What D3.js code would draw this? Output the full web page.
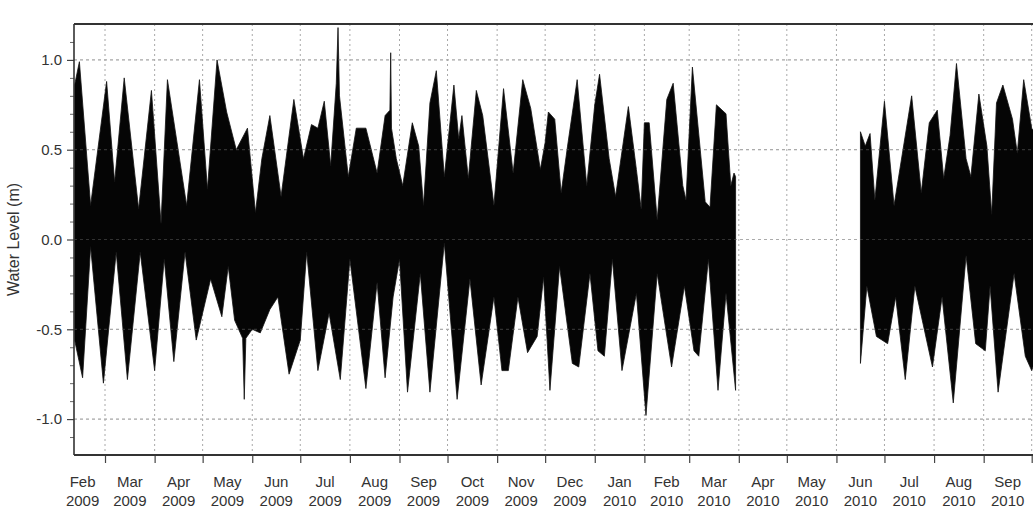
<!DOCTYPE html>
<html>
<head>
<meta charset="utf-8">
<script src="https://cdn.jsdelivr.net/npm/d3@7"></script>
<style>
  html, body { margin: 0; padding: 0; background: #fff; }
  svg { display: block; }
  text { font-family: "Liberation Sans", Arial, sans-serif; }
</style>
</head>
<body>
<svg id="chart" width="1033" height="513"></svg>
<script>
// Upper envelope of the recorded water level (m): spring/neap highs
const highWater = [
  ["2009-02-10", 0.86], ["2009-02-13", 0.99], ["2009-02-20", 0.19], ["2009-03-02", 0.88],
  ["2009-03-07", 0.32], ["2009-03-13", 0.90], ["2009-03-22", 0.17], ["2009-03-30", 0.83],
  ["2009-04-05", 0.09], ["2009-04-09", 0.89], ["2009-04-21", 0.19], ["2009-04-29", 0.89],
  ["2009-05-04", 0.28], ["2009-05-10", 1.00], ["2009-05-16", 0.71], ["2009-05-22", 0.50],
  ["2009-05-29", 0.62], ["2009-06-03", 0.15], ["2009-06-07", 0.45], ["2009-06-12", 0.69],
  ["2009-06-19", 0.24], ["2009-06-27", 0.78], ["2009-07-03", 0.45], ["2009-07-08", 0.64],
  ["2009-07-12", 0.62], ["2009-07-16", 0.77], ["2009-07-20", 0.41], ["2009-07-23T12:00", 0.87],
  ["2009-07-24T14:00", 1.18], ["2009-07-25T12:00", 0.80], ["2009-07-31", 0.35], ["2009-08-05", 0.62],
  ["2009-08-11", 0.62], ["2009-08-18", 0.37], ["2009-08-23", 0.69], ["2009-08-26", 0.72],
  ["2009-08-26T12:00", 1.04], ["2009-08-27", 0.62], ["2009-08-30", 0.45], ["2009-09-03", 0.30],
  ["2009-09-09", 0.65], ["2009-09-13", 0.52], ["2009-09-16", 0.19], ["2009-09-20", 0.76],
  ["2009-09-24", 0.94], ["2009-09-29", 0.35], ["2009-10-05", 0.86], ["2009-10-08", 0.56],
  ["2009-10-10", 0.69], ["2009-10-14", 0.34], ["2009-10-19", 0.83], ["2009-10-23", 0.69],
  ["2009-10-30", 0.19], ["2009-11-05", 0.84], ["2009-11-11", 0.37], ["2009-11-17", 0.89],
  ["2009-11-22", 0.73], ["2009-11-28", 0.39], ["2009-12-01", 0.54], ["2009-12-03", 0.71],
  ["2009-12-07", 0.67], ["2009-12-11", 0.26], ["2009-12-15", 0.52], ["2009-12-21", 0.89],
  ["2009-12-27", 0.30], ["2010-01-01", 0.75], ["2010-01-04", 0.92], ["2010-01-10", 0.45],
  ["2010-01-14", 0.24], ["2010-01-22", 0.74], ["2010-01-27", 0.39], ["2010-01-30", 0.17],
  ["2010-02-01", 0.65], ["2010-02-04", 0.65], ["2010-02-09", 0.11], ["2010-02-15", 0.78],
  ["2010-02-19", 0.87], ["2010-02-25", 0.30], ["2010-02-27", 0.22], ["2010-03-03", 0.96],
  ["2010-03-11", 0.21], ["2010-03-14", 0.18], ["2010-03-18", 0.75], ["2010-03-24", 0.70],
  ["2010-03-27", 0.30], ["2010-03-29", 0.37], ["2010-03-30", 0.35],
  ["2010-06-16", 0.60], ["2010-06-19", 0.52], ["2010-06-22", 0.59], ["2010-06-25", 0.22],
  ["2010-07-01", 0.77], ["2010-07-07", 0.19], ["2010-07-18", 0.80], ["2010-07-24", 0.26],
  ["2010-07-29", 0.65], ["2010-08-03", 0.72], ["2010-08-07", 0.34], ["2010-08-11", 0.58],
  ["2010-08-15", 0.98], ["2010-08-21", 0.45], ["2010-08-24", 0.35], ["2010-08-29", 0.81],
  ["2010-09-03", 0.52], ["2010-09-06", 0.14], ["2010-09-09", 0.76], ["2010-09-13", 0.86],
  ["2010-09-19", 0.67], ["2010-09-22", 0.48], ["2010-09-26", 0.89], ["2010-10-01", 0.62],
  ["2010-10-06", 0.55]
];

// Lower envelope of the recorded water level (m): spring/neap lows
const lowWater = [
  ["2009-02-10", -0.56], ["2009-02-15", -0.77], ["2009-02-20", -0.04], ["2009-02-28", -0.80],
  ["2009-03-08", -0.07], ["2009-03-15", -0.78], ["2009-03-23", -0.07], ["2009-04-01", -0.73],
  ["2009-04-07", -0.11], ["2009-04-13", -0.68], ["2009-04-20", -0.07], ["2009-04-27", -0.56],
  ["2009-05-06", -0.22], ["2009-05-13", -0.43], ["2009-05-17", -0.15], ["2009-05-21", -0.45],
  ["2009-05-26", -0.55], ["2009-05-27", -0.89], ["2009-05-28", -0.55], ["2009-06-01", -0.50],
  ["2009-06-06", -0.52], ["2009-06-12", -0.39], ["2009-06-17", -0.32], ["2009-06-24", -0.75],
  ["2009-07-01", -0.56], ["2009-07-05", -0.07], ["2009-07-12", -0.73], ["2009-07-19", -0.41],
  ["2009-07-26", -0.78], ["2009-08-01", -0.11], ["2009-08-11", -0.83], ["2009-08-18", -0.24],
  ["2009-08-23", -0.77], ["2009-08-28", -0.32], ["2009-09-01", -0.11], ["2009-09-06", -0.85],
  ["2009-09-14", -0.19], ["2009-09-20", -0.85], ["2009-09-29", -0.02], ["2009-10-07", -0.89],
  ["2009-10-15", -0.22], ["2009-10-22", -0.81], ["2009-10-30", -0.32], ["2009-11-04", -0.73],
  ["2009-11-08", -0.73], ["2009-11-14", -0.32], ["2009-11-20", -0.63], ["2009-11-26", -0.54],
  ["2009-11-30", -0.21], ["2009-12-04", -0.84], ["2009-12-10", -0.15], ["2009-12-18", -0.69],
  ["2009-12-22", -0.71], ["2009-12-29", -0.19], ["2010-01-03", -0.62], ["2010-01-07", -0.65],
  ["2010-01-12", -0.11], ["2010-01-18", -0.73], ["2010-01-27", -0.30], ["2010-02-02", -0.98],
  ["2010-02-09", -0.19], ["2010-02-18", -0.71], ["2010-02-26", -0.26], ["2010-03-04", -0.62],
  ["2010-03-07", -0.65], ["2010-03-13", -0.11], ["2010-03-19", -0.84], ["2010-03-24", -0.30],
  ["2010-03-30", -0.84],
  ["2010-06-16", -0.69], ["2010-06-20", -0.26], ["2010-06-26", -0.54], ["2010-07-03", -0.58],
  ["2010-07-08", -0.32], ["2010-07-14", -0.78], ["2010-07-20", -0.26], ["2010-07-31", -0.71],
  ["2010-08-06", -0.32], ["2010-08-13", -0.91], ["2010-08-21", -0.09], ["2010-08-27", -0.58],
  ["2010-09-02", -0.62], ["2010-09-05", -0.26], ["2010-09-10", -0.85], ["2010-09-20", -0.19],
  ["2010-09-27", -0.65], ["2010-10-01", -0.73], ["2010-10-06", -0.60]
];

// Axis settings
const yMajorTicks = [-1.0, -0.5, 0.0, 0.5, 1.0];
const yMinorTicks = [-1.1, -0.9, -0.8, -0.7, -0.6, -0.4, -0.3, -0.2, -0.1,
                     0.1, 0.2, 0.3, 0.4, 0.6, 0.7, 0.8, 0.9, 1.1];
const yLabel = "Water Level (m)";
const timeStart = Date.UTC(2009, 1, 9, 15);
const timeEnd = Date.UTC(2010, 9, 20);

(function draw() {
  const svg = d3.select("#chart");
  const W = 1033, H = 513;
  const mL = 74, mT = 24, mB = 455;
  const pxPerDay = 1.6005;
  const mR = mL + (timeEnd - timeStart) / 864e5 * pxPerDay;

  svg.append("rect").attr("width", W).attr("height", H).attr("fill", "#fff");

  const x = d3.scaleUtc().domain([new Date(timeStart), new Date(timeEnd)]).range([mL, mR]);
  const y = d3.scaleLinear().domain([-1.2, 1.2]).range([mB, mT]);

  const parse = s => new Date(s.length > 10 ? s + ":00Z" : s + "T00:00:00Z");
  const toPts = arr => arr.map(([t, v]) => ({ t: parse(t), v }));

  // split a record into continuous pieces wherever the gauge was offline
  function split(pts) {
    const out = [[]];
    pts.forEach((p, i) => {
      if (i > 0 && (p.t - pts[i - 1].t) / 864e5 > 20) out.push([]);
      out[out.length - 1].push(p);
    });
    return out;
  }

  const hiSegs = split(toPts(highWater));
  const loSegs = split(toPts(lowWater));

  svg.append("defs").append("clipPath").attr("id", "plot-clip")
    .append("rect").attr("x", mL).attr("y", mT).attr("width", mR - mL).attr("height", mB - mT);

  // grid (under the data)
  const months = d3.utcMonth.range(new Date(Date.UTC(2009, 2, 1)), new Date(timeEnd));
  const grid = svg.append("g");
  grid.selectAll("line.v").data(months).join("line")
    .attr("x1", d => x(d)).attr("x2", d => x(d)).attr("y1", mT).attr("y2", mB)
    .attr("stroke", "#a8a8a8").attr("stroke-width", 1).attr("stroke-dasharray", "2,3");
  grid.selectAll("line.h").data(yMajorTicks).join("line")
    .attr("x1", mL).attr("x2", mR).attr("y1", d => y(d)).attr("y2", d => y(d))
    .attr("stroke", "#999").attr("stroke-width", 1.2).attr("stroke-dasharray", "3,3");

  // water level record
  const line = d3.line().x(d => x(d.t)).y(d => y(d.v));
  const dataG = svg.append("g").attr("clip-path", "url(#plot-clip)");
  hiSegs.forEach((hi, i) => {
    const lo = loSegs[i];
    const ring = hi.concat(lo.slice().reverse());
    dataG.append("path")
      .attr("d", line(ring) + "Z")
      .attr("fill", "#050505")
      .attr("stroke", "#111")
      .attr("stroke-width", 0.8)
      .attr("stroke-linejoin", "miter");
  });

  // faint grid showing through the dense record
  const overG = svg.append("g").attr("clip-path", "url(#plot-clip)").attr("opacity", 0.18);
  overG.selectAll("line").data(yMajorTicks).join("line")
    .attr("x1", mL).attr("x2", mR).attr("y1", d => y(d)).attr("y2", d => y(d))
    .attr("stroke", "#fff").attr("stroke-width", 1.2).attr("stroke-dasharray", "3,3");

  // y axis
  const yAxis = svg.append("g").attr("transform", `translate(${mL},0)`)
    .call(d3.axisLeft(y).tickValues(yMajorTicks).tickSize(7).tickPadding(5)
      .tickFormat(d => d.toFixed(1)));
  yAxis.select(".domain").remove();
  yAxis.selectAll("line").attr("stroke", "#444").attr("stroke-width", 1.2);
  yAxis.selectAll("text").attr("font-size", 15).attr("fill", "#333")
    .attr("font-family", "'Liberation Sans', Arial, sans-serif");

  const yMinor = svg.append("g").attr("transform", `translate(${mL},0)`)
    .call(d3.axisLeft(y).tickValues(yMinorTicks).tickSize(4).tickFormat(""));
  yMinor.select(".domain").remove();
  yMinor.selectAll("line").attr("stroke", "#666").attr("stroke-width", 1);

  svg.append("text")
    .attr("transform", `translate(19,${(mT + mB) / 2}) rotate(-90)`)
    .attr("text-anchor", "middle")
    .attr("font-size", 16).attr("fill", "#333")
    .text(yLabel);

  // x axis: ticks at month boundaries, labels centred on each month
  const xAxis = svg.append("g").attr("transform", `translate(0,${mB})`)
    .call(d3.axisBottom(x).tickValues(months).tickSize(8).tickFormat(""));
  xAxis.select(".domain").remove();
  xAxis.selectAll("line").attr("stroke", "#444").attr("stroke-width", 1.2);

  const mid = m => new Date((+m + +d3.utcMonth.offset(m, 1)) / 2);
  const labelMonths = d3.utcMonth.range(new Date(Date.UTC(2009, 1, 1)), new Date(timeEnd))
    .filter(m => x(mid(m)) + 18 <= W);
  const lbl = svg.append("g").attr("font-size", 15).attr("fill", "#333").attr("text-anchor", "middle");
  lbl.selectAll("text.m").data(labelMonths).join("text")
    .attr("x", d => x(mid(d))).attr("y", 487).text(d3.utcFormat("%b"));
  lbl.selectAll("text.yr").data(labelMonths).join("text")
    .attr("x", d => x(mid(d))).attr("y", 506).text(d3.utcFormat("%Y"));

  // frame
  const frame = svg.append("g").attr("stroke", "#333").attr("fill", "none");
  frame.append("line").attr("x1", mL).attr("x2", mR).attr("y1", mT).attr("y2", mT).attr("stroke-width", 2);
  frame.append("line").attr("x1", mL).attr("x2", mR).attr("y1", mB).attr("y2", mB).attr("stroke-width", 2);
  frame.append("line").attr("x1", mL).attr("x2", mL).attr("y1", mT).attr("y2", mB).attr("stroke-width", 1.6);
})();
</script>
</body>
</html>
